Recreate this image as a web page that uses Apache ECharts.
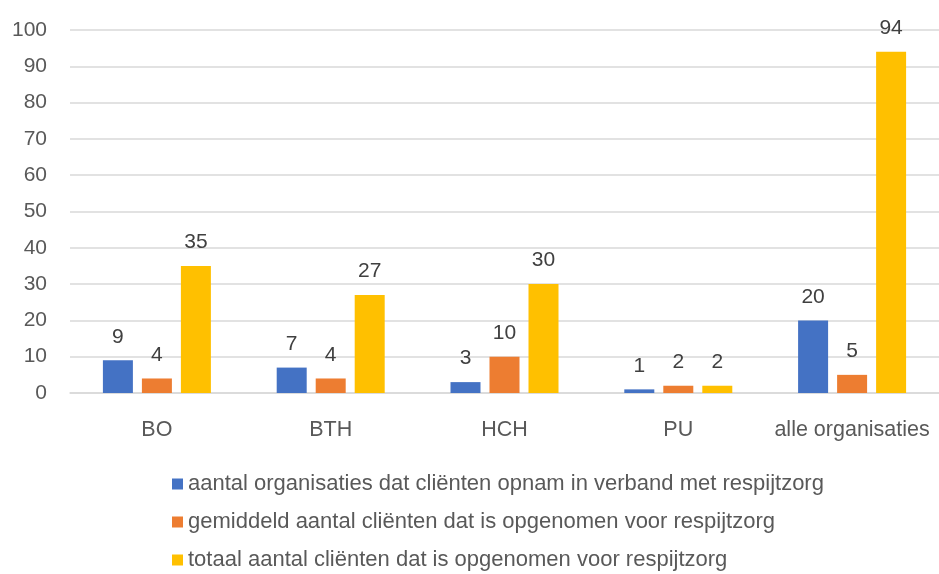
<!DOCTYPE html>
<html>
<head>
<meta charset="utf-8">
<script src="https://cdn.jsdelivr.net/npm/echarts@6/dist/echarts.min.js"></script>
<style>
  html, body { margin: 0; padding: 0; background: #fff; }
  #chart { width: 939px; height: 574px; }
</style>
</head>
<body>
<div id="chart"></div>
<script>
// categorieen en waarden
const categories = ["BO", "BTH", "HCH", "PU", "alle organisaties"];
const aantalOrganisaties = [9, 7, 3, 1, 20];
const gemiddeldAantal = [4, 4, 10, 2, 5];
const totaalAantal = [35, 27, 30, 2, 94];
const seriesNames = [
  "aantal organisaties dat cliënten opnam in verband met respijtzorg",
  "gemiddeld aantal cliënten dat is opgenomen voor respijtzorg",
  "totaal aantal cliënten dat is opgenomen voor respijtzorg"
];
const colors = ["#4472C4", "#ED7D31", "#FFC000"];

const font = "'Liberation Sans', Arial, sans-serif";
const labelStyle = {
  show: true,
  position: "top",
  distance: 13,
  color: "#404040",
  fontSize: 21,
  fontFamily: font
};

function barSeries(name, data, color) {
  return {
    name,
    type: "bar",
    data,
    barWidth: 30,
    barGap: "30%",
    itemStyle: { color },
    label: labelStyle
  };
}

const chart = echarts.init(document.getElementById("chart"));
chart.setOption({
  animation: false,
  grid: { left: 70, right: 0, top: 30, bottom: 181 },
  legend: {
    orient: "vertical",
    left: 167,
    top: 468,
    height: 106,
    itemWidth: 11,
    itemHeight: 11,
    itemGap: 16,
    icon: "rect",
    textStyle: { color: "#595959", fontSize: 22, fontFamily: font }
  },
  xAxis: {
    type: "category",
    data: categories,
    axisLine: { show: true, lineStyle: { color: "#d9d9d9", width: 1.5 } },
    axisTick: { show: false },
    axisLabel: { color: "#595959", fontSize: 21.5, fontFamily: font, margin: 26, interval: 0 }
  },
  yAxis: {
    type: "value",
    min: 0,
    max: 100,
    interval: 10,
    axisLine: { show: false },
    axisTick: { show: false },
    splitLine: { lineStyle: { color: "#d9d9d9", width: 1.5 } },
    axisLabel: { color: "#595959", fontSize: 21, fontFamily: font, margin: 23 }
  },
  series: [
    barSeries(seriesNames[0], aantalOrganisaties, colors[0]),
    barSeries(seriesNames[1], gemiddeldAantal, colors[1]),
    barSeries(seriesNames[2], totaalAantal, colors[2])
  ]
});
</script>
</body>
</html>
